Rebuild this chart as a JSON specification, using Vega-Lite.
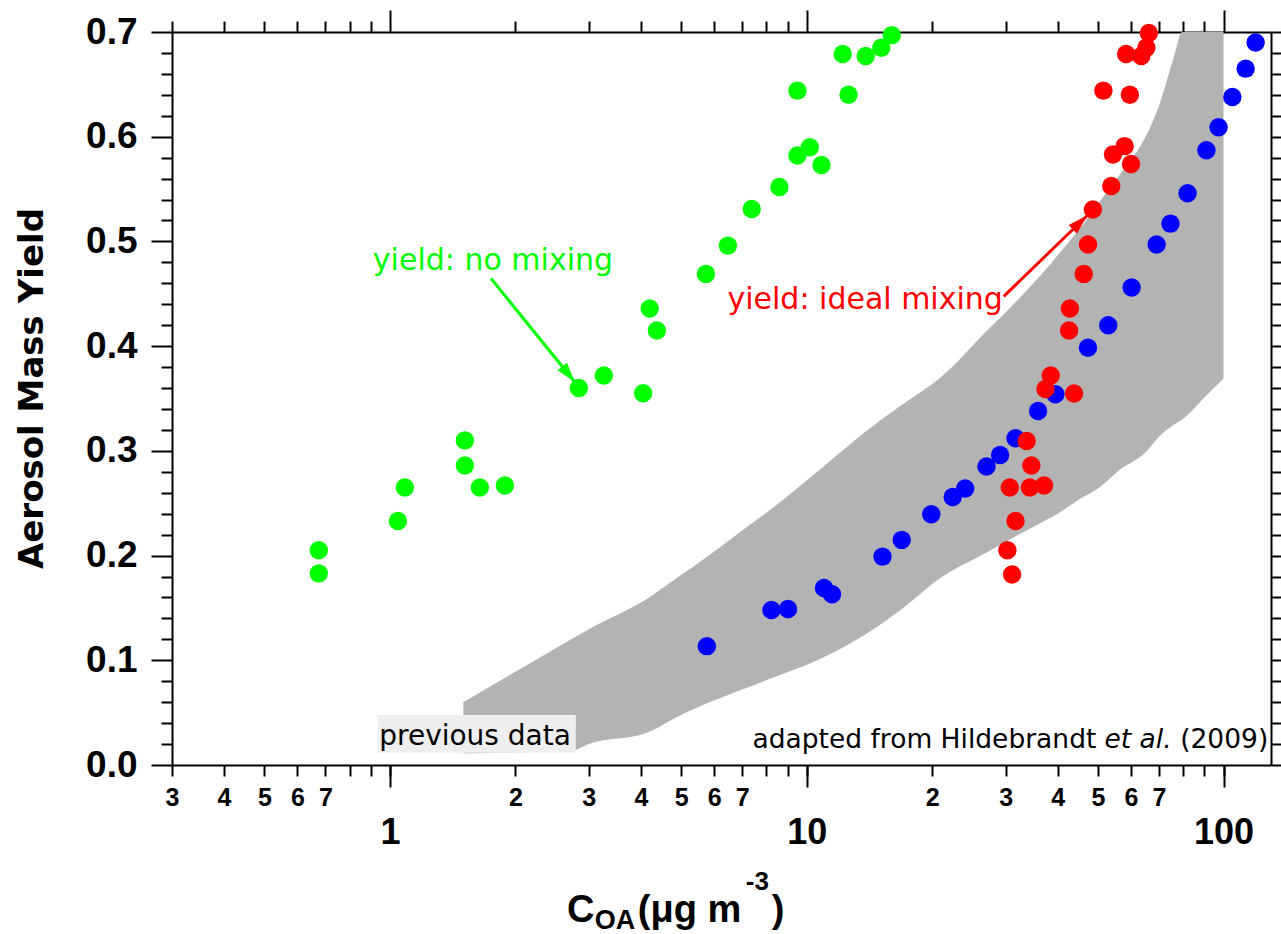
{
  "$schema": "https://vega.github.io/schema/vega-lite/v6.json",
  "width": 1099,
  "height": 733,
  "autosize": {"type": "none"},
  "padding": {"left": 172, "top": 32, "right": 10, "bottom": 169},
  "background": "white",
  "config": {
    "view": {"stroke": null},
    "axis": {"domainColor": "black", "domainWidth": 2, "tickColor": "black", "tickWidth": 2, "grid": false, "labelColor": "black", "titleColor": "black"}
  },
  "datasets": {
    "band": [
      {"x": 1.5, "lo": 0.011, "hi": 0.060},
      {"x": 2.0, "lo": 0.012, "hi": 0.089},
      {"x": 2.75, "lo": 0.014, "hi": 0.121},
      {"x": 3.0, "lo": 0.020, "hi": 0.1296},
      {"x": 4.15, "lo": 0.031, "hi": 0.159},
      {"x": 5.0, "lo": 0.048, "hi": 0.1816},
      {"x": 5.5, "lo": 0.0555, "hi": 0.193},
      {"x": 7.0, "lo": 0.072, "hi": 0.224},
      {"x": 8.35, "lo": 0.0838, "hi": 0.2465},
      {"x": 10.4, "lo": 0.0986, "hi": 0.2774},
      {"x": 15, "lo": 0.134, "hi": 0.329},
      {"x": 16.8, "lo": 0.148, "hi": 0.343},
      {"x": 21, "lo": 0.179, "hi": 0.3705},
      {"x": 27, "lo": 0.203, "hi": 0.4143},
      {"x": 32.6, "lo": 0.221, "hi": 0.447},
      {"x": 37.8, "lo": 0.2346, "hi": 0.475},
      {"x": 40, "lo": 0.240, "hi": 0.4867},
      {"x": 45.4, "lo": 0.2545, "hi": 0.513},
      {"x": 50, "lo": 0.264, "hi": 0.5358},
      {"x": 56, "lo": 0.281, "hi": 0.562},
      {"x": 65.6, "lo": 0.300, "hi": 0.603},
      {"x": 69.8, "lo": 0.313, "hi": 0.628},
      {"x": 76, "lo": 0.325, "hi": 0.676},
      {"x": 79.6, "lo": 0.330, "hi": 0.700},
      {"x": 90, "lo": 0.351, "hi": 0.700},
      {"x": 100, "lo": 0.369, "hi": 0.700}
    ],
    "points": [
      {"series": "other", "x": 5.76, "y": 0.1135},
      {"series": "other", "x": 8.23, "y": 0.148},
      {"series": "other", "x": 9.02, "y": 0.149},
      {"series": "other", "x": 11.0, "y": 0.169},
      {"series": "other", "x": 11.5, "y": 0.163},
      {"series": "other", "x": 15.2, "y": 0.199},
      {"series": "other", "x": 16.9, "y": 0.215},
      {"series": "other", "x": 19.9, "y": 0.2395},
      {"series": "other", "x": 22.4, "y": 0.256},
      {"series": "other", "x": 24.0, "y": 0.264},
      {"series": "other", "x": 27.0, "y": 0.285},
      {"series": "other", "x": 29.1, "y": 0.296},
      {"series": "other", "x": 31.7, "y": 0.312},
      {"series": "other", "x": 35.9, "y": 0.338},
      {"series": "other", "x": 39.5, "y": 0.354},
      {"series": "other", "x": 47.3, "y": 0.3985},
      {"series": "other", "x": 52.9, "y": 0.42},
      {"series": "other", "x": 60.2, "y": 0.456},
      {"series": "other", "x": 69.1, "y": 0.497},
      {"series": "other", "x": 74.6, "y": 0.517},
      {"series": "other", "x": 82, "y": 0.546},
      {"series": "other", "x": 91, "y": 0.587},
      {"series": "other", "x": 97.3, "y": 0.609},
      {"series": "other", "x": 105, "y": 0.638},
      {"series": "other", "x": 113, "y": 0.665},
      {"series": "other", "x": 119.4, "y": 0.690},
      {"series": "ideal mixing", "x": 31.1, "y": 0.182},
      {"series": "ideal mixing", "x": 30.3, "y": 0.205},
      {"series": "ideal mixing", "x": 31.7, "y": 0.233},
      {"series": "ideal mixing", "x": 30.7, "y": 0.265},
      {"series": "ideal mixing", "x": 34.3, "y": 0.265},
      {"series": "ideal mixing", "x": 37.1, "y": 0.267},
      {"series": "ideal mixing", "x": 34.6, "y": 0.286},
      {"series": "ideal mixing", "x": 33.7, "y": 0.3095},
      {"series": "ideal mixing", "x": 37.4, "y": 0.359},
      {"series": "ideal mixing", "x": 38.5, "y": 0.372},
      {"series": "ideal mixing", "x": 43.8, "y": 0.3547},
      {"series": "ideal mixing", "x": 42.8, "y": 0.436},
      {"series": "ideal mixing", "x": 42.6, "y": 0.415},
      {"series": "ideal mixing", "x": 46.2, "y": 0.469},
      {"series": "ideal mixing", "x": 47.3, "y": 0.497},
      {"series": "ideal mixing", "x": 48.6, "y": 0.5305},
      {"series": "ideal mixing", "x": 53.8, "y": 0.553},
      {"series": "ideal mixing", "x": 54.3, "y": 0.583},
      {"series": "ideal mixing", "x": 57.9, "y": 0.591},
      {"series": "ideal mixing", "x": 60.0, "y": 0.574},
      {"series": "ideal mixing", "x": 51.5, "y": 0.644},
      {"series": "ideal mixing", "x": 59.6, "y": 0.640},
      {"series": "ideal mixing", "x": 58.4, "y": 0.679},
      {"series": "ideal mixing", "x": 63.5, "y": 0.677},
      {"series": "ideal mixing", "x": 65.3, "y": 0.685},
      {"series": "ideal mixing", "x": 66.2, "y": 0.699},
      {"series": "no mixing", "x": 0.675, "y": 0.205},
      {"series": "no mixing", "x": 0.675, "y": 0.183},
      {"series": "no mixing", "x": 1.045, "y": 0.233},
      {"series": "no mixing", "x": 1.086, "y": 0.265},
      {"series": "no mixing", "x": 1.513, "y": 0.310},
      {"series": "no mixing", "x": 1.513, "y": 0.286},
      {"series": "no mixing", "x": 1.643, "y": 0.265},
      {"series": "no mixing", "x": 1.887, "y": 0.267},
      {"series": "no mixing", "x": 2.84, "y": 0.36},
      {"series": "no mixing", "x": 3.26, "y": 0.372},
      {"series": "no mixing", "x": 4.05, "y": 0.355},
      {"series": "no mixing", "x": 4.2, "y": 0.436},
      {"series": "no mixing", "x": 4.37, "y": 0.415},
      {"series": "no mixing", "x": 5.73, "y": 0.469},
      {"series": "no mixing", "x": 6.47, "y": 0.496},
      {"series": "no mixing", "x": 7.38, "y": 0.531},
      {"series": "no mixing", "x": 8.6, "y": 0.552},
      {"series": "no mixing", "x": 9.5, "y": 0.582},
      {"series": "no mixing", "x": 9.5, "y": 0.644},
      {"series": "no mixing", "x": 10.17, "y": 0.59},
      {"series": "no mixing", "x": 10.85, "y": 0.573},
      {"series": "no mixing", "x": 12.2, "y": 0.679},
      {"series": "no mixing", "x": 12.6, "y": 0.64},
      {"series": "no mixing", "x": 13.85, "y": 0.677},
      {"series": "no mixing", "x": 15.1, "y": 0.685},
      {"series": "no mixing", "x": 16.0, "y": 0.697}
    ],
    "arrows": [
      {"series": "no mixing", "x": 1.747, "y": 0.4647, "x2": 2.777, "y2": 0.3657},
      {"series": "ideal mixing", "x": 29.7, "y": 0.4475, "x2": 47.1, "y2": 0.5248}
    ],
    "labels": [
      {"series": "no mixing", "t": "yield: no mixing", "x": 0.91, "y": 0.4723},
      {"series": "ideal mixing", "t": "yield: ideal mixing", "x": 6.455, "y": 0.4358}
    ]
  },
  "layer": [
    {
      "data": {"name": "band"},
      "mark": {"type": "area", "color": "#b3b3b3", "interpolate": "monotone"},
      "encoding": {
        "x": {
          "field": "x", "type": "quantitative",
          "scale": {"type": "log", "domain": [0.3, 130], "nice": false},
          "axis": {
            "orient": "bottom", "title": null,
            "values": [0.3, 0.4, 0.5, 0.6, 0.7, 0.8, 0.9, 1, 2, 3, 4, 5, 6, 7, 8, 9, 10, 20, 30, 40, 50, 60, 70, 80, 90, 100],
            "labelExpr": "(datum.value == 1 || datum.value == 10 || datum.value == 100) ? '' : (round(datum.value / pow(10, floor(log(datum.value) / LN10 + 1e-9))) <= 7 ? ('' + round(datum.value / pow(10, floor(log(datum.value) / LN10 + 1e-9)))) : '')",
            "labelFont": "Liberation Sans", "labelFontWeight": "bold", "labelFontSize": 25,
            "tickSize": 11,
            "labelPadding": 9,
            "labelOverlap": false, "labelFlush": false, "labelBound": false, "labelBaseline": "top", "labelAlign": "center"
          }
        },
        "y": {
          "field": "lo", "type": "quantitative",
          "scale": {"domain": [0, 0.7], "nice": false, "zero": false},
          "axis": {
            "orient": "left", "title": "Aerosol Mass Yield",
            "values": [0, 0.02, 0.04, 0.06, 0.08, 0.1, 0.12, 0.14, 0.16, 0.18, 0.2, 0.22, 0.24, 0.26, 0.28, 0.3, 0.32, 0.34, 0.36, 0.38, 0.4, 0.42, 0.44, 0.46, 0.48, 0.5, 0.52, 0.54, 0.56, 0.58, 0.6, 0.62, 0.64, 0.66, 0.68, 0.7],
            "labelExpr": "abs(datum.value * 10 - round(datum.value * 10)) < 0.001 ? format(datum.value, '.1f') : ''",
            "tickSize": {"condition": {"test": "abs(datum.value * 10 - round(datum.value * 10)) < 0.001", "value": 21}, "value": 11},
            "labelPadding": 14, "labelFont": "Liberation Sans", "labelFontWeight": "bold", "labelFontSize": 37,
            "labelOverlap": false, "labelFlush": false, "labelBound": false,
            "titleFont": "DejaVu Sans", "titleFontWeight": "bold", "titleFontSize": 34, "titlePadding": 36, "titleY": 356
          }
        },
        "y2": {"field": "hi"}
      }
    },
    {
      "data": {"values": [{"x": 0.934, "x2": 2.793, "y": 0.0117, "y2": 0.0477}]},
      "mark": {"type": "rect", "color": "#eeeeee"},
      "encoding": {
        "x": {
          "field": "x", "type": "quantitative", "scale": {"type": "log", "domain": [0.3, 130], "nice": false},
          "axis": {
            "orient": "bottom", "title": null, "values": [1, 10, 100], "domain": false, "ticks": true, "tickSize": 22,
            "labelExpr": "'' + datum.value",
            "labelFont": "Liberation Sans", "labelFontWeight": "bold", "labelFontSize": 36, "labelPadding": 28,
            "labelOverlap": false, "labelFlush": false, "labelBound": false, "labelBaseline": "top", "labelAlign": "center"
          }
        },
        "x2": {"field": "x2"},
        "y": {"field": "y", "type": "quantitative", "scale": {"domain": [0, 0.7], "nice": false, "zero": false}, "axis": null},
        "y2": {"field": "y2"}
      }
    },
    {
      "data": {"values": [{"t": "previous data", "x": 0.9426, "y": 0.0191}]},
      "mark": {"type": "text", "align": "left", "baseline": "alphabetic", "font": "DejaVu Sans", "fontSize": 28, "color": "black"},
      "encoding": {
        "x": {"field": "x", "type": "quantitative", "scale": {"type": "log", "domain": [0.3, 130], "nice": false}, "axis": null},
        "y": {"field": "y", "type": "quantitative", "scale": {"domain": [0, 0.7], "nice": false, "zero": false}, "axis": null},
        "text": {"field": "t"}
      }
    },
    {
      "data": {"name": "points"},
      "mark": {"type": "circle", "size": 340, "opacity": 1},
      "encoding": {
        "x": {
          "field": "x", "type": "quantitative",
          "scale": {"type": "log", "domain": [0.3, 130], "nice": false},
          "axis": {
            "orient": "top", "title": null, "labels": false,
            "values": [0.3, 0.4, 0.5, 0.6, 0.7, 0.8, 0.9, 1, 2, 3, 4, 5, 6, 7, 8, 9, 10, 20, 30, 40, 50, 60, 70, 80, 90, 100],
            "tickSize": {"condition": {"test": "datum.value == 1 || datum.value == 10 || datum.value == 100", "value": 22}, "value": 11}
          }
        },
        "y": {
          "field": "y", "type": "quantitative",
          "scale": {"domain": [0, 0.7], "nice": false, "zero": false},
          "axis": {
            "orient": "right", "title": null, "labels": false, "tickSize": 10,
            "values": [0, 0.02, 0.04, 0.06, 0.08, 0.1, 0.12, 0.14, 0.16, 0.18, 0.2, 0.22, 0.24, 0.26, 0.28, 0.3, 0.32, 0.34, 0.36, 0.38, 0.4, 0.42, 0.44, 0.46, 0.48, 0.5, 0.52, 0.54, 0.56, 0.58, 0.6, 0.62, 0.64, 0.66, 0.68, 0.7]
          }
        },
        "color": {"field": "series", "type": "nominal", "scale": {"domain": ["other", "ideal mixing", "no mixing"], "range": ["#0000ff", "#ff0000", "#00ff00"]}, "legend": null}
      }
    },
    {
      "data": {"name": "arrows"},
      "mark": {"type": "rule", "strokeWidth": 3},
      "encoding": {
        "x": {"field": "x", "type": "quantitative", "scale": {"type": "log", "domain": [0.3, 130], "nice": false}, "axis": null},
        "x2": {"field": "x2"},
        "y": {"field": "y", "type": "quantitative", "scale": {"domain": [0, 0.7], "nice": false, "zero": false}, "axis": null},
        "y2": {"field": "y2"},
        "color": {"field": "series", "type": "nominal", "scale": {"domain": ["other", "ideal mixing", "no mixing"], "range": ["#0000ff", "#ff0000", "#00ff00"]}, "legend": null}
      }
    },
    {
      "data": {"name": "arrows"},
      "transform": [{"filter": "datum.series == 'no mixing'"}],
      "mark": {"type": "point", "shape": "M0,0L0.6,2L-0.6,2Z", "size": 400, "filled": true, "opacity": 1, "angle": 141, "strokeWidth": 0},
      "encoding": {
        "x": {"field": "x2", "type": "quantitative", "scale": {"type": "log", "domain": [0.3, 130], "nice": false}, "axis": null},
        "y": {"field": "y2", "type": "quantitative", "scale": {"domain": [0, 0.7], "nice": false, "zero": false}, "axis": null},
        "color": {"field": "series", "type": "nominal", "scale": {"domain": ["other", "ideal mixing", "no mixing"], "range": ["#0000ff", "#ff0000", "#00ff00"]}, "legend": null}
      }
    },
    {
      "data": {"name": "arrows"},
      "transform": [{"filter": "datum.series == 'ideal mixing'"}],
      "mark": {"type": "point", "shape": "M0,0L0.6,2L-0.6,2Z", "size": 400, "filled": true, "opacity": 1, "angle": 46, "strokeWidth": 0},
      "encoding": {
        "x": {"field": "x2", "type": "quantitative", "scale": {"type": "log", "domain": [0.3, 130], "nice": false}, "axis": null},
        "y": {"field": "y2", "type": "quantitative", "scale": {"domain": [0, 0.7], "nice": false, "zero": false}, "axis": null},
        "color": {"field": "series", "type": "nominal", "scale": {"domain": ["other", "ideal mixing", "no mixing"], "range": ["#0000ff", "#ff0000", "#00ff00"]}, "legend": null}
      }
    },
    {
      "data": {"name": "labels"},
      "mark": {"type": "text", "align": "left", "baseline": "alphabetic", "font": "DejaVu Sans", "fontSize": 30},
      "encoding": {
        "x": {"field": "x", "type": "quantitative", "scale": {"type": "log", "domain": [0.3, 130], "nice": false}, "axis": null},
        "y": {"field": "y", "type": "quantitative", "scale": {"domain": [0, 0.7], "nice": false, "zero": false}, "axis": null},
        "text": {"field": "t"},
        "color": {"field": "series", "type": "nominal", "scale": {"domain": ["other", "ideal mixing", "no mixing"], "range": ["#0000ff", "#ff0000", "#00ff00"]}, "legend": null}
      }
    },
    {
      "data": {"values": [{"t": "adapted from Hildebrandt", "x": 7.41, "y": 0.0159}, {"t": "(2009)", "x": 78.7, "y": 0.0159}]},
      "mark": {"type": "text", "align": "left", "baseline": "alphabetic", "font": "DejaVu Sans", "fontSize": 26.5, "color": "black"},
      "encoding": {
        "x": {"field": "x", "type": "quantitative", "scale": {"type": "log", "domain": [0.3, 130], "nice": false}, "axis": null},
        "y": {"field": "y", "type": "quantitative", "scale": {"domain": [0, 0.7], "nice": false, "zero": false}, "axis": null},
        "text": {"field": "t"}
      }
    },
    {
      "data": {"values": [{"t": "et al.", "x": 51.8, "y": 0.0159}]},
      "mark": {"type": "text", "align": "left", "baseline": "alphabetic", "font": "DejaVu Sans", "fontSize": 26.5, "fontStyle": "italic", "color": "black"},
      "encoding": {
        "x": {"field": "x", "type": "quantitative", "scale": {"type": "log", "domain": [0.3, 130], "nice": false}, "axis": null},
        "y": {"field": "y", "type": "quantitative", "scale": {"domain": [0, 0.7], "nice": false, "zero": false}, "axis": null},
        "text": {"field": "t"}
      }
    },
    {
      "data": {"values": [{"t": "C", "x": 2.658, "y": -0.1498}, {"t": "(μg m", "x": 3.933, "y": -0.1498}, {"t": ")", "x": 8.24, "y": -0.1498}]},
      "mark": {"type": "text", "align": "left", "baseline": "alphabetic", "font": "Liberation Sans", "fontWeight": "bold", "fontSize": 38, "color": "black"},
      "encoding": {
        "x": {"field": "x", "type": "quantitative", "scale": {"type": "log", "domain": [0.3, 130], "nice": false}, "axis": null},
        "y": {"field": "y", "type": "quantitative", "scale": {"domain": [0, 0.7], "nice": false, "zero": false}, "axis": null},
        "text": {"field": "t"}
      }
    },
    {
      "data": {"values": [{"t": "OA", "x": 3.101, "y": -0.1562}]},
      "mark": {"type": "text", "align": "left", "baseline": "alphabetic", "font": "Liberation Sans", "fontWeight": "bold", "fontSize": 27, "color": "black"},
      "encoding": {
        "x": {"field": "x", "type": "quantitative", "scale": {"type": "log", "domain": [0.3, 130], "nice": false}, "axis": null},
        "y": {"field": "y", "type": "quantitative", "scale": {"domain": [0, 0.7], "nice": false, "zero": false}, "axis": null},
        "text": {"field": "t"}
      }
    },
    {
      "data": {"values": [{"t": "-3", "x": 7.14, "y": -0.1195}]},
      "mark": {"type": "text", "align": "left", "baseline": "alphabetic", "font": "Liberation Sans", "fontWeight": "bold", "fontSize": 26, "color": "black"},
      "encoding": {
        "x": {"field": "x", "type": "quantitative", "scale": {"type": "log", "domain": [0.3, 130], "nice": false}, "axis": null},
        "y": {"field": "y", "type": "quantitative", "scale": {"domain": [0, 0.7], "nice": false, "zero": false}, "axis": null},
        "text": {"field": "t"}
      }
    }
  ],
  "resolve": {"scale": {"x": "shared", "y": "shared"}, "axis": {"x": "independent", "y": "independent"}}
}
